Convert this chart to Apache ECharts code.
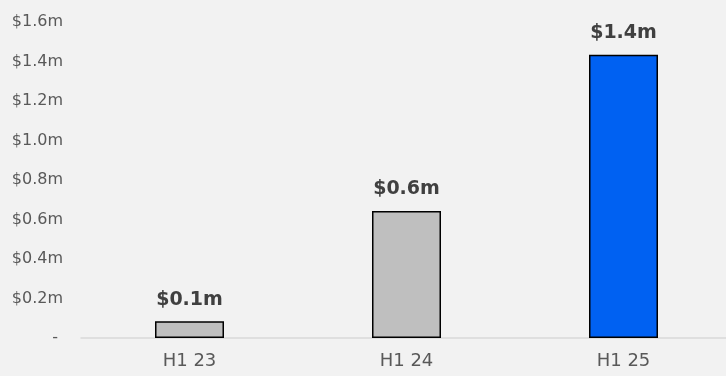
<!DOCTYPE html>
<html>
<head>
<meta charset="utf-8">
<script src="https://cdn.jsdelivr.net/npm/echarts@6/dist/echarts.min.js"></script>
<style>
html, body { margin: 0; padding: 0; background: #f2f2f2; }
#main { width: 726px; height: 376px; }
</style>
</head>
<body>
<div id="main"></div>
<script>
// half year categories and values ($m)
var categories = ['H1 23', 'H1 24', 'H1 25'];
var values = [0.085, 0.643, 1.434];
var valueLabels = ['$0.1m', '$0.6m', '$1.4m'];
var barColors = ['#bfbfbf', '#bfbfbf', '#0061f2'];
var yTicks = ['-', '$0.2m', '$0.4m', '$0.6m', '$0.8m', '$1.0m', '$1.2m', '$1.4m', '$1.6m'];

var myChart = echarts.init(document.getElementById('main'));

var barData = [];
for (var i = 0; i < values.length; i++) {
    barData.push({
        value: values[i],
        itemStyle: { color: barColors[i] }
    });
}

var fontName = '"DejaVu Sans", "Noto Sans", sans-serif';

var option = {
    backgroundColor: '#f2f2f2',
    animation: false,
    grid: {
        left: 81,
        width: 651,
        top: 22,
        bottom: 38,
        outerBoundsMode: 'none'
    },
    xAxis: {
        type: 'category',
        data: categories,
        axisTick: { show: false },
        axisLine: { lineStyle: { color: '#d9d9d9', width: 1.5 } },
        axisLabel: {
            margin: 14,
            fontSize: 18,
            color: '#595959',
            fontFamily: fontName
        }
    },
    yAxis: {
        type: 'value',
        min: 0,
        max: 1.6,
        interval: 0.2,
        splitLine: { show: false },
        axisLine: { show: false },
        axisTick: { show: false },
        axisLabel: {
            margin: 18,
            fontSize: 16,
            color: '#595959',
            fontFamily: fontName,
            formatter: function (v) {
                var idx = Math.round(v / 0.2);
                if (idx === 0) return '- ';
                return yTicks[idx];
            }
        }
    },
    series: [
        {
            type: 'bar',
            data: barData,
            barWidth: 69,
            itemStyle: {
                borderColor: '#000000',
                borderWidth: 1.5
            },
            label: {
                show: true,
                position: 'top',
                distance: 12,
                fontSize: 19,
                fontWeight: 'bold',
                color: '#404040',
                fontFamily: fontName,
                formatter: function (p) {
                    return valueLabels[p.dataIndex];
                }
            }
        }
    ]
};

myChart.setOption(option);
</script>
</body>
</html>
